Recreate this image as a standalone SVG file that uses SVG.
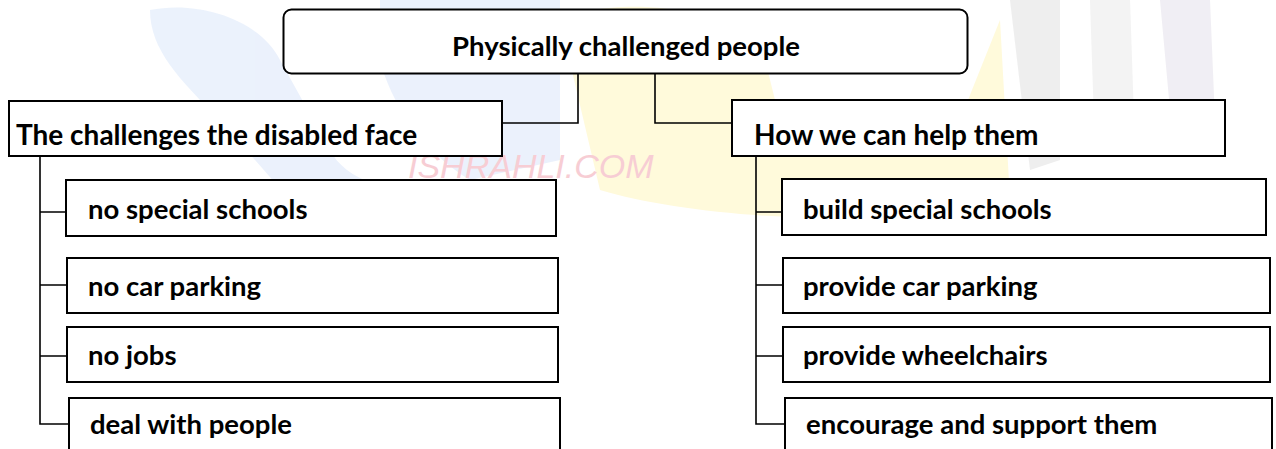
<svg xmlns="http://www.w3.org/2000/svg" width="1276" height="449" viewBox="0 0 1276 449">
<style>
.box{fill:#fff;stroke:#000;stroke-width:2}
.lbl{font-family:Lato,"Liberation Sans",sans-serif;font-weight:700;font-size:27.5px;fill:#000}
.hd{font-size:28px}
.con{fill:none;stroke:#000;stroke-width:1.6}
.wm{font-family:"Liberation Sans",sans-serif;font-style:italic;font-size:34px;fill:#f5b8c2}
</style>
<rect width="1276" height="449" fill="#fff"/>
<g id="watermark" opacity="0.7">
<path d="M150,10 C200,0 260,20 280,60 L330,150 C350,190 420,200 500,190 L540,200 L520,230 C420,240 330,230 290,200 L220,120 C180,80 150,50 150,10 Z" fill="#e3ecfb"/>
<path d="M380,0 L560,0 L560,160 L470,180 C420,150 390,100 380,60 Z" fill="#e3ecfb"/>
<path d="M560,20 C600,0 700,0 760,40 L780,120 L960,120 L1000,20 L1010,200 C900,230 700,220 600,190 Z" fill="#fff8cc"/>
<path d="M1010,0 L1060,0 L1060,160 L1030,170 Z" fill="#e8e8e8"/>
<path d="M1090,0 L1130,0 L1135,150 L1095,150 Z" fill="#eeeeee"/>
<path d="M1160,0 L1210,0 L1215,120 L1170,110 Z" fill="#ebe8f0"/>
<text class="wm" x="408" y="178">ISHRAHLI.COM</text>
</g>
<g id="connectors">
<path class="con" d="M578,74 V123 H502"/>
<path class="con" d="M655,74 V123 H732"/>
<path class="con" d="M40,156 V424 H69 M40,212 H66 M40,285 H67 M40,356 H67"/>
<path class="con" d="M756,156 V424 H785 M756,212 H782 M756,285 H783 M756,356 H783"/>
</g>
<g id="root"><rect class="box" x="283.5" y="9.5" width="684" height="64" rx="8"/><text class="lbl" x="626" y="56" text-anchor="middle">Physically challenged people</text></g>
<g id="left-head"><rect class="box" x="9" y="101" width="493" height="55"/><text class="lbl hd" x="16" y="145">The challenges the disabled face</text></g>
<g id="right-head"><rect class="box" x="732" y="100" width="493" height="56"/><text class="lbl hd" x="754" y="145">How we can help them</text></g>
<g id="l1"><rect class="box" x="66" y="180" width="490" height="56"/><text class="lbl" x="88" y="219">no special schools</text></g>
<g id="l2"><rect class="box" x="67" y="258" width="491" height="55"/><text class="lbl" x="88" y="296">no car parking</text></g>
<g id="l3"><rect class="box" x="67" y="327" width="491" height="55"/><text class="lbl" x="88" y="365">no jobs</text></g>
<g id="l4"><rect class="box" x="69" y="398" width="491" height="60"/><text class="lbl" x="90" y="434">deal with people</text></g>
<g id="r1"><rect class="box" x="782" y="179" width="484" height="56"/><text class="lbl" x="803" y="219">build special schools</text></g>
<g id="r2"><rect class="box" x="783" y="258" width="487" height="55"/><text class="lbl" x="803" y="296">provide car parking</text></g>
<g id="r3"><rect class="box" x="783" y="327" width="487" height="55"/><text class="lbl" x="803" y="365">provide wheelchairs</text></g>
<g id="r4"><rect class="box" x="785" y="398" width="487" height="60"/><text class="lbl" x="806" y="434">encourage and support them</text></g>
</svg>
